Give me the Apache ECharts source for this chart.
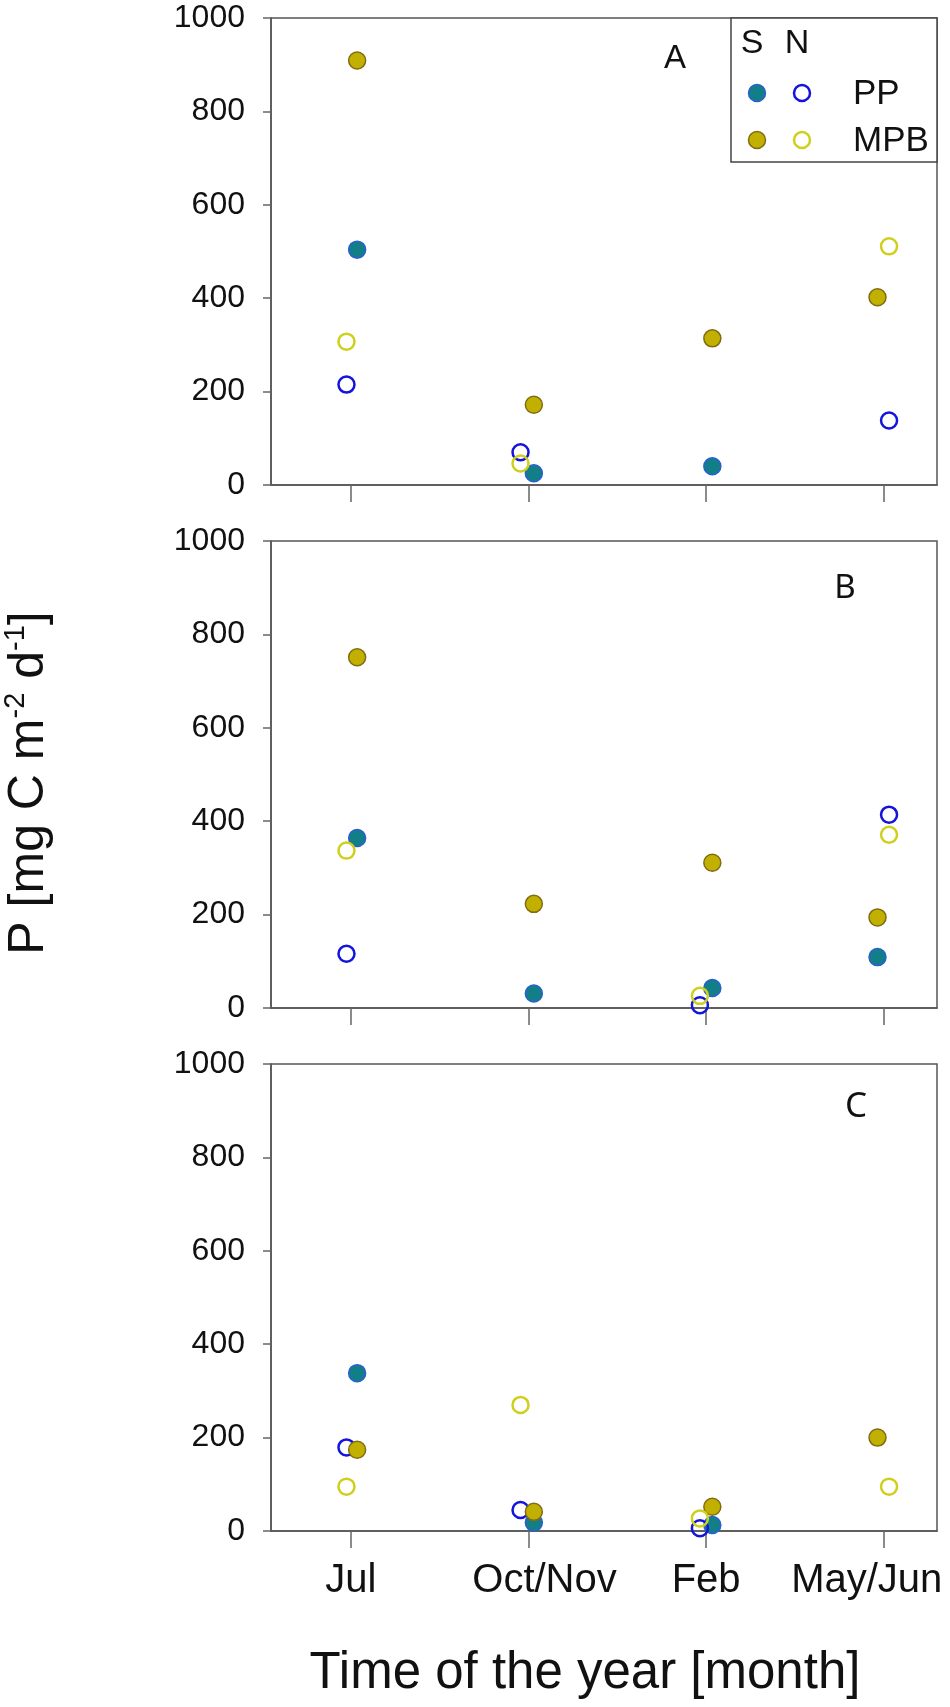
<!DOCTYPE html>
<html>
<head>
<meta charset="utf-8">
<script src="https://cdn.jsdelivr.net/npm/echarts@6/dist/echarts.min.js"></script>
<style>
  html, body { margin: 0; padding: 0; background: #fff; }
  #main { width: 950px; height: 1707px; }
</style>
</head>
<body>
<div id="main"></div>
<script>
// categories
var months = ['Jul', 'Oct/Nov', 'Feb', 'May/Jun']
var yTicks = [0, 200, 400, 600, 800, 1000]

// panel A  (S = filled, N = open)
var ppS_A  = [504, 25, 40, null]
var ppN_A  = [215, 70, null, 138]
var mpbS_A = [909, 172, 314, 402]
var mpbN_A = [307, 46, null, 511]

// panel B
var ppS_B  = [364, 31, 43, 109]
var ppN_B  = [116, null, 6, 414]
var mpbS_B = [751, 223, 311, 194]
var mpbN_B = [337, null, 26, 371]

// panel C
var ppS_C  = [338, 18, 13, null]
var ppN_C  = [179, 45, 6, null]
var mpbS_C = [174, 41, 52, 200]
var mpbN_C = [95, 270, 27, 95]

// small sideways offsets so overlapping points stay visible
var sJit = [0.035, 0.03, 0.035, -0.035]
var nJit = [-0.025, -0.045, -0.035, 0.03]

function pts(vals, jit) {
  var out = []
  vals.forEach(function (v, i) {
    if (v != null) out.push([i + 1 + jit[i], v])
  })
  return out
}

function main() {
  var myChart = echarts.init(document.getElementById('main'))
  var font = 'Liberation Sans, Arial, sans-serif'
  var tops = [18, 541, 1064]
  var panels = [
    [ppS_A, ppN_A, mpbS_A, mpbN_A],
    [ppS_B, ppN_B, mpbS_B, mpbN_B],
    [ppS_C, ppN_C, mpbS_C, mpbN_C]
  ]

  var grid = [], xAxis = [], yAxis = [], series = []
  tops.forEach(function (t, k) {
    grid.push({
      left: 271, right: 13, top: t, height: 467,
      show: true, borderColor: '#555', borderWidth: 1.5, backgroundColor: 'transparent'
    })
    xAxis.push({
      type: 'value', gridIndex: k, min: 0.55, max: 4.3,
      splitLine: { show: false },
      axisLine: { show: true, lineStyle: { color: '#555', width: 1.5 } },
      axisTick: { show: true, length: 17, customValues: [1, 2, 3, 4], lineStyle: { color: '#666', width: 1.5 } },
      axisLabel: {
        show: k === 2, customValues: [1, 2, 3, 4], margin: 30,
        color: '#111', fontFamily: font, fontSize: 40,
        formatter: function (v) {
          var name = months[Math.round(v) - 1]
          if (v === 2) return '{r|' + name + '}'
          if (v === 4) return '{l|' + name + '}'
          return name
        },
        rich: {
          r: { color: '#111', fontFamily: font, fontSize: 40, padding: [0, 0, 0, 32] },
          l: { color: '#111', fontFamily: font, fontSize: 40, padding: [0, 34, 0, 0] }
        }
      }
    })
    yAxis.push({
      type: 'value', gridIndex: k, min: yTicks[0], max: yTicks[yTicks.length - 1], interval: 200,
      splitLine: { show: false },
      axisLine: { show: true, lineStyle: { color: '#555', width: 1.5 } },
      axisTick: { show: true, length: 8, lineStyle: { color: '#666', width: 1.5 } },
      axisLabel: {
        color: '#111', fontFamily: font, fontSize: 32, margin: 26,
        formatter: function (v) { return String(v) }
      }
    })

    var d = panels[k]
    series.push({
      type: 'scatter', xAxisIndex: k, yAxisIndex: k, data: pts(d[0], sJit),
      symbol: 'circle', symbolSize: 17,
      itemStyle: { color: '#127f88', borderColor: '#2a5fd0', borderWidth: 1.5, opacity: 1 }
    })
    series.push({
      type: 'scatter', xAxisIndex: k, yAxisIndex: k, data: pts(d[1], nJit),
      symbol: 'circle', symbolSize: 16,
      itemStyle: { color: 'rgba(0,0,0,0)', borderColor: '#1414dc', borderWidth: 2.5, opacity: 1 }
    })
    series.push({
      type: 'scatter', xAxisIndex: k, yAxisIndex: k, data: pts(d[2], sJit),
      symbol: 'circle', symbolSize: 17,
      itemStyle: { color: '#c2b000', borderColor: '#806c12', borderWidth: 1.5, opacity: 1 }
    })
    series.push({
      type: 'scatter', xAxisIndex: k, yAxisIndex: k, data: pts(d[3], nJit),
      symbol: 'circle', symbolSize: 16,
      itemStyle: { color: 'rgba(0,0,0,0)', borderColor: '#cfcf1e', borderWidth: 2.5, opacity: 1 }
    })
  })

  var graphic = [
    // panel letters
    { type: 'text', x: 675, y: 59, style: { text: 'A', fontFamily: font, fontSize: 33, fill: '#111', align: 'center', verticalAlign: 'middle' } },
    { type: 'text', x: 845, y: 589, style: { text: 'B', fontFamily: 'Noto Sans', fontSize: 33, fill: '#111', align: 'center', verticalAlign: 'middle' } },
    { type: 'text', x: 856, y: 1107, style: { text: 'C', fontFamily: 'Noto Sans', fontSize: 35, fill: '#111', align: 'center', verticalAlign: 'middle' } },
    // legend box
    { type: 'rect', shape: { x: 731, y: 18, width: 206, height: 144 }, style: { fill: '#fff', stroke: '#444', lineWidth: 1.5 }, z: 10 },
    { type: 'text', x: 752, y: 44, z: 11, style: { text: 'S', fontFamily: font, fontSize: 34, fill: '#111', align: 'center', verticalAlign: 'middle' } },
    { type: 'text', x: 797, y: 44, z: 11, style: { text: 'N', fontFamily: font, fontSize: 34, fill: '#111', align: 'center', verticalAlign: 'middle' } },
    { type: 'circle', z: 11, shape: { cx: 757, cy: 93, r: 8.5 }, style: { fill: '#127f88', stroke: '#2a5fd0', lineWidth: 1.5 } },
    { type: 'circle', z: 11, shape: { cx: 802, cy: 93, r: 8 }, style: { fill: 'none', stroke: '#1414dc', lineWidth: 2.5 } },
    { type: 'circle', z: 11, shape: { cx: 757, cy: 140, r: 8.5 }, style: { fill: '#c2b000', stroke: '#806c12', lineWidth: 1.5 } },
    { type: 'circle', z: 11, shape: { cx: 802, cy: 140, r: 8 }, style: { fill: 'none', stroke: '#cfcf1e', lineWidth: 2.5 } },
    { type: 'text', x: 853, y: 94, z: 11, style: { text: 'PP', fontFamily: font, fontSize: 35, fill: '#111', align: 'left', verticalAlign: 'middle' } },
    { type: 'text', x: 853, y: 141, z: 11, style: { text: 'MPB', fontFamily: font, fontSize: 35, fill: '#111', align: 'left', verticalAlign: 'middle' } },
    // axis titles
    { type: 'text', x: 585, y: 1674, style: { text: 'Time of the year [month]', fontFamily: font, fontSize: 51, fill: '#111', align: 'center', verticalAlign: 'middle' } },
    {
      type: 'text', x: 29, y: 783, rotation: Math.PI / 2,
      style: {
        text: 'P [mg C m{s|-2} d{s|-1}]', fontFamily: font, fontSize: 50, fill: '#111',
        align: 'center', verticalAlign: 'middle',
        rich: { s: { fontFamily: font, fontSize: 29, fill: '#111', verticalAlign: 'top', lineHeight: 56 } }
      }
    }
  ]

  var option = {
    animation: false,
    backgroundColor: '#fff',
    grid: grid,
    xAxis: xAxis,
    yAxis: yAxis,
    series: series,
    graphic: graphic
  }
  myChart.setOption(option)
}

window.onload = main
</script>
</body>
</html>
